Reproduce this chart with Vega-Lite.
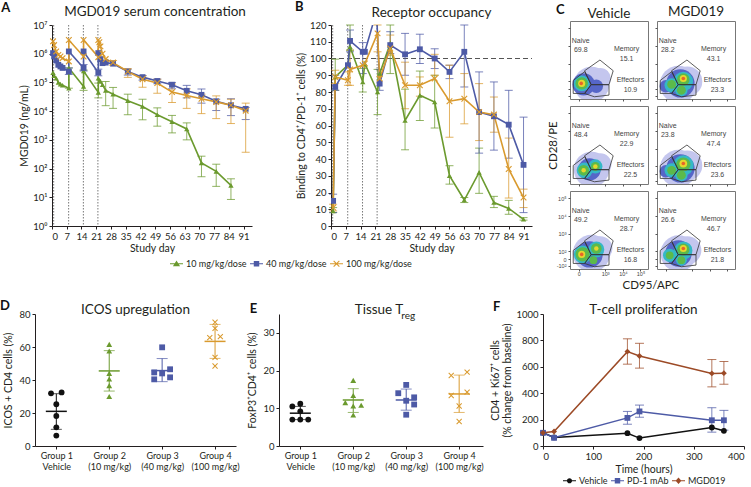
{"$schema":"https://vega.github.io/schema/vega-lite/v6.json","background":"white","padding":{"left":0,"top":1,"right":0,"bottom":0},
"config":{"font":"Lato","view":{"stroke":null},"axis":{"grid":false,"labelFont":"Lato","titleFont":"Lato","labelFontSize":9.5,"titleFontSize":10.5,"titleFontWeight":"normal","labelColor":"#231f20","titleColor":"#231f20","domainColor":"#231f20","tickColor":"#231f20","tickSize":3,"labelPadding":2,"titlePadding":3},"title":{"font":"Lato","fontSize":13.5,"fontWeight":"normal","color":"#231f20","offset":7,"anchor":"middle"},"legend":{"labelFont":"Lato","labelFontSize":9,"labelColor":"#231f20"}},
"datasets":{
"a":[
{"s":"10 mg/kg/dose","d":0.5,"v":220000},{"s":"10 mg/kg/dose","d":1,"v":170000},{"s":"10 mg/kg/dose","d":2,"v":140000},{"s":"10 mg/kg/dose","d":3,"v":100000},{"s":"10 mg/kg/dose","d":4,"v":87000},{"s":"10 mg/kg/dose","d":5,"v":80000},{"s":"10 mg/kg/dose","d":8,"v":63000,"h":320000,"l":63000},{"s":"10 mg/kg/dose","d":8,"v":320000},{"s":"10 mg/kg/dose","d":15,"v":72000,"h":270000,"l":53000},{"s":"10 mg/kg/dose","d":15,"v":250000},{"s":"10 mg/kg/dose","d":22,"v":45000,"h":95000,"l":29000},{"s":"10 mg/kg/dose","d":22,"v":140000},{"s":"10 mg/kg/dose","d":23,"v":110000},{"s":"10 mg/kg/dose","d":24,"v":83000},{"s":"10 mg/kg/dose","d":25.5,"v":53000,"h":108000,"l":15500},{"s":"10 mg/kg/dose","d":29,"v":39000,"h":67000,"l":12500},{"s":"10 mg/kg/dose","d":36,"v":23000,"h":39000,"l":7500},{"s":"10 mg/kg/dose","d":43,"v":14500,"h":26000,"l":5000},{"s":"10 mg/kg/dose","d":50,"v":7500,"h":13000,"l":3000},{"s":"10 mg/kg/dose","d":57,"v":4300,"h":7100,"l":1750},{"s":"10 mg/kg/dose","d":64,"v":2400,"h":3900,"l":1000},{"s":"10 mg/kg/dose","d":71,"v":158,"h":270,"l":52},{"s":"10 mg/kg/dose","d":78,"v":80,"h":142,"l":24},{"s":"10 mg/kg/dose","d":85,"v":26,"h":44,"l":8.4},
{"s":"40 mg/kg/dose","d":0.5,"v":1050000},{"s":"40 mg/kg/dose","d":1,"v":800000},{"s":"40 mg/kg/dose","d":2,"v":580000},{"s":"40 mg/kg/dose","d":3,"v":410000},{"s":"40 mg/kg/dose","d":4,"v":360000},{"s":"40 mg/kg/dose","d":5,"v":320000},{"s":"40 mg/kg/dose","d":8,"v":240000,"h":320000,"l":190000},{"s":"40 mg/kg/dose","d":8,"v":1200000},{"s":"40 mg/kg/dose","d":15,"v":320000,"h":420000,"l":250000},{"s":"40 mg/kg/dose","d":15,"v":1200000},{"s":"40 mg/kg/dose","d":22,"v":220000,"h":290000,"l":170000},{"s":"40 mg/kg/dose","d":22,"v":1050000},{"s":"40 mg/kg/dose","d":23,"v":650000},{"s":"40 mg/kg/dose","d":24,"v":470000},{"s":"40 mg/kg/dose","d":25.5,"v":490000},{"s":"40 mg/kg/dose","d":29,"v":450000},{"s":"40 mg/kg/dose","d":36,"v":240000,"h":290000,"l":180000},{"s":"40 mg/kg/dose","d":43,"v":153000,"h":175000,"l":120000},{"s":"40 mg/kg/dose","d":50,"v":112000,"h":130000,"l":90000},{"s":"40 mg/kg/dose","d":57,"v":83000,"h":100000,"l":60000},{"s":"40 mg/kg/dose","d":64,"v":51000,"h":79000,"l":29000},{"s":"40 mg/kg/dose","d":71,"v":37000,"h":59000,"l":19000},{"s":"40 mg/kg/dose","d":78,"v":22000,"h":26000,"l":10500},{"s":"40 mg/kg/dose","d":85,"v":16000,"h":27000,"l":7000},{"s":"40 mg/kg/dose","d":92,"v":12000,"h":13500,"l":5100},
{"s":"100 mg/kg/dose","d":0.5,"v":2700000},{"s":"100 mg/kg/dose","d":1,"v":2000000},{"s":"100 mg/kg/dose","d":2,"v":1200000},{"s":"100 mg/kg/dose","d":3,"v":900000},{"s":"100 mg/kg/dose","d":4,"v":800000},{"s":"100 mg/kg/dose","d":5,"v":700000},{"s":"100 mg/kg/dose","d":8,"v":540000},{"s":"100 mg/kg/dose","d":8,"v":3000000},{"s":"100 mg/kg/dose","d":15,"v":800000},{"s":"100 mg/kg/dose","d":15,"v":3000000},{"s":"100 mg/kg/dose","d":22,"v":760000},{"s":"100 mg/kg/dose","d":22,"v":3000000},{"s":"100 mg/kg/dose","d":22.5,"v":2500000},{"s":"100 mg/kg/dose","d":23,"v":1800000},{"s":"100 mg/kg/dose","d":24,"v":1000000},{"s":"100 mg/kg/dose","d":25.5,"v":650000},{"s":"100 mg/kg/dose","d":29,"v":490000,"h":580000,"l":400000},{"s":"100 mg/kg/dose","d":36,"v":240000,"h":300000,"l":150000},{"s":"100 mg/kg/dose","d":43,"v":130000,"h":170000,"l":68000},{"s":"100 mg/kg/dose","d":50,"v":95000,"h":130000,"l":42000},{"s":"100 mg/kg/dose","d":57,"v":46000,"h":88000,"l":20000},{"s":"100 mg/kg/dose","d":64,"v":35000,"h":60000,"l":12500},{"s":"100 mg/kg/dose","d":71,"v":27000,"h":39000,"l":8200},{"s":"100 mg/kg/dose","d":78,"v":21000,"h":34000,"l":5500},{"s":"100 mg/kg/dose","d":85,"v":16000,"h":26000,"l":3700},{"s":"100 mg/kg/dose","d":92,"v":10400,"h":19000,"l":370}],
"b":[
{"s":"10 mg/kg/dose","d":1,"v":9,"h":11,"l":8},{"s":"10 mg/kg/dose","d":2,"v":89,"h":99.6,"l":81},{"s":"10 mg/kg/dose","d":8,"v":96},{"s":"10 mg/kg/dose","d":9,"v":107,"h":120,"l":105},{"s":"10 mg/kg/dose","d":15,"v":86,"h":94,"l":80},{"s":"10 mg/kg/dose","d":16,"v":97},{"s":"10 mg/kg/dose","d":22,"v":80,"h":93.5,"l":66.5},{"s":"10 mg/kg/dose","d":23,"v":91},{"s":"10 mg/kg/dose","d":28,"v":109,"h":120,"l":91},{"s":"10 mg/kg/dose","d":35,"v":63,"h":81.7,"l":45.5},{"s":"10 mg/kg/dose","d":42,"v":78,"h":92.5,"l":63},{"s":"10 mg/kg/dose","d":49,"v":74,"h":90,"l":58.5},{"s":"10 mg/kg/dose","d":56,"v":30,"h":36,"l":25},{"s":"10 mg/kg/dose","d":63,"v":15.5,"h":17,"l":14},{"s":"10 mg/kg/dose","d":70,"v":32,"h":46.5,"l":19.5},{"s":"10 mg/kg/dose","d":77,"v":14,"h":17.7,"l":11},{"s":"10 mg/kg/dose","d":84,"v":10.5,"h":15.3,"l":7},{"s":"10 mg/kg/dose","d":91,"v":4,"h":5,"l":3.5},
{"s":"40 mg/kg/dose","d":1,"v":15,"h":19,"l":8},{"s":"40 mg/kg/dose","d":2,"v":83,"h":90,"l":81},{"s":"40 mg/kg/dose","d":8,"v":96},{"s":"40 mg/kg/dose","d":9,"v":110.5,"h":117,"l":104},{"s":"40 mg/kg/dose","d":15,"v":104,"h":109.5,"l":91},{"s":"40 mg/kg/dose","d":16,"v":104},{"s":"40 mg/kg/dose","d":21.5,"v":128},{"s":"40 mg/kg/dose","d":23,"v":85,"h":93.5,"l":81},{"s":"40 mg/kg/dose","d":28,"v":108,"h":116,"l":103},{"s":"40 mg/kg/dose","d":35,"v":102.5,"h":115,"l":90},{"s":"40 mg/kg/dose","d":42,"v":105.5,"h":114.5,"l":97},{"s":"40 mg/kg/dose","d":49,"v":100,"h":105.8,"l":94},{"s":"40 mg/kg/dose","d":56,"v":92,"h":96,"l":88},{"s":"40 mg/kg/dose","d":63,"v":104,"h":120,"l":83},{"s":"40 mg/kg/dose","d":70,"v":68,"h":92,"l":43.5},{"s":"40 mg/kg/dose","d":77,"v":65.5,"h":86,"l":45.3},{"s":"40 mg/kg/dose","d":84,"v":60.5,"h":81,"l":40.5},{"s":"40 mg/kg/dose","d":91,"v":36.5,"h":65,"l":8},
{"s":"100 mg/kg/dose","d":1,"v":11,"h":13,"l":9},{"s":"100 mg/kg/dose","d":2,"v":89,"h":93,"l":85},{"s":"100 mg/kg/dose","d":8,"v":87,"h":92,"l":84},{"s":"100 mg/kg/dose","d":9,"v":93.5,"h":105,"l":84},{"s":"100 mg/kg/dose","d":15,"v":96},{"s":"100 mg/kg/dose","d":16,"v":97},{"s":"100 mg/kg/dose","d":22,"v":115,"h":120,"l":104},{"s":"100 mg/kg/dose","d":23,"v":88},{"s":"100 mg/kg/dose","d":28,"v":106,"h":114,"l":102},{"s":"100 mg/kg/dose","d":35,"v":84,"h":97.8,"l":70},{"s":"100 mg/kg/dose","d":42,"v":84,"h":89,"l":77.5},{"s":"100 mg/kg/dose","d":49,"v":88,"h":102.5,"l":90},{"s":"100 mg/kg/dose","d":56,"v":74.5,"h":96,"l":53},{"s":"100 mg/kg/dose","d":63,"v":76,"h":91,"l":61},{"s":"100 mg/kg/dose","d":70,"v":68,"h":85,"l":51},{"s":"100 mg/kg/dose","d":77,"v":66.5,"h":77,"l":56},{"s":"100 mg/kg/dose","d":84,"v":34,"h":52.5,"l":16.7},{"s":"100 mg/kg/dose","d":91,"v":17,"h":22,"l":11}],
"blobs":[
{"p":"v1","u":22,"v":15,"n":1250,"k":1},{"p":"v1","u":31,"v":21,"n":450,"k":1},{"p":"v1","u":14,"v":15,"n":500,"k":2},{"p":"v1","u":27,"v":13,"n":180,"k":2},{"p":"v1","u":12,"v":16,"n":254,"k":3},{"p":"v1","u":12,"v":16,"n":154,"k":4},{"p":"v1","u":12,"v":16,"n":50,"k":5},{"p":"v1","u":11.5,"v":16,"n":13,"k":6},
{"p":"m1","u":22,"v":15,"n":1385,"k":1},{"p":"m1","u":31,"v":18,"n":908,"k":1},{"p":"m1","u":24,"v":16,"n":804,"k":2},{"p":"m1","u":9,"v":13,"n":154,"k":2},{"p":"m1","u":27,"v":18,"n":380,"k":3},{"p":"m1","u":15,"v":14,"n":201,"k":3},{"p":"m1","u":25,"v":9,"n":154,"k":3},{"p":"m1","u":27,"v":20,"n":154,"k":4},{"p":"m1","u":15,"v":15,"n":79,"k":4},{"p":"m1","u":25,"v":9,"n":79,"k":4},{"p":"m1","u":27,"v":21,"n":50,"k":5},{"p":"m1","u":27,"v":21,"n":13,"k":6},
{"p":"v2","u":22,"v":15,"n":1250,"k":1},{"p":"v2","u":31,"v":20,"n":500,"k":1},{"p":"v2","u":20,"v":15,"n":500,"k":2},{"p":"v2","u":15,"v":14,"n":254,"k":3},{"p":"v2","u":26,"v":18,"n":201,"k":3},{"p":"v2","u":14,"v":14,"n":113,"k":4},{"p":"v2","u":26,"v":18,"n":79,"k":4},{"p":"v2","u":14,"v":14,"n":20,"k":5},{"p":"v2","u":26,"v":18,"n":20,"k":5},
{"p":"m2","u":22,"v":16,"n":1385,"k":1},{"p":"m2","u":31,"v":19,"n":908,"k":1},{"p":"m2","u":24,"v":16,"n":804,"k":2},{"p":"m2","u":9,"v":13,"n":154,"k":2},{"p":"m2","u":27,"v":19,"n":420,"k":3},{"p":"m2","u":15,"v":14,"n":201,"k":3},{"p":"m2","u":25,"v":9,"n":154,"k":3},{"p":"m2","u":27,"v":20,"n":201,"k":4},{"p":"m2","u":15,"v":14,"n":79,"k":4},{"p":"m2","u":25,"v":9,"n":79,"k":4},{"p":"m2","u":27,"v":21,"n":60,"k":5},{"p":"m2","u":27,"v":21,"n":13,"k":6},
{"p":"v3","u":22,"v":16,"n":1385,"k":1},{"p":"v3","u":31,"v":21,"n":600,"k":1},{"p":"v3","u":20,"v":15,"n":700,"k":2},{"p":"v3","u":13,"v":15,"n":314,"k":3},{"p":"v3","u":27,"v":20,"n":254,"k":3},{"p":"v3","u":13,"v":15,"n":201,"k":4},{"p":"v3","u":27,"v":21,"n":113,"k":4},{"p":"v3","u":24,"v":9,"n":60,"k":4},{"p":"v3","u":12,"v":15,"n":50,"k":5},{"p":"v3","u":27,"v":21,"n":20,"k":5},{"p":"v3","u":12,"v":15,"n":13,"k":6},
{"p":"m3","u":22,"v":16,"n":1300,"k":1},{"p":"m3","u":31,"v":19,"n":800,"k":1},{"p":"m3","u":22,"v":16,"n":700,"k":2},{"p":"m3","u":27,"v":19,"n":330,"k":3},{"p":"m3","u":13,"v":14,"n":180,"k":3},{"p":"m3","u":25,"v":9,"n":120,"k":3},{"p":"m3","u":27,"v":20,"n":150,"k":4},{"p":"m3","u":13,"v":14,"n":60,"k":4},{"p":"m3","u":25,"v":9,"n":60,"k":4},{"p":"m3","u":27,"v":21,"n":50,"k":5},{"p":"m3","u":27,"v":21,"n":13,"k":6}],
"gates":[{"g":"Memory","u":15,"v":29},{"g":"Memory","u":30.7,"v":40},{"g":"Memory","u":44.3,"v":29},{"g":"Memory","u":40,"v":14.7},{"g":"Memory","u":21.7,"v":14.7},{"g":"Memory","u":15,"v":29},{"g":"Naive","u":3.3,"v":19},{"g":"Naive","u":15,"v":28},{"g":"Naive","u":21.7,"v":14.7},{"g":"Naive","u":15,"v":5.7},{"g":"Naive","u":3.3,"v":5.7},{"g":"Naive","u":3.3,"v":19},{"g":"Effectors","u":21.7,"v":14.7},{"g":"Effectors","u":40,"v":14.7},{"g":"Effectors","u":40,"v":4},{"g":"Effectors","u":25,"v":2.3},{"g":"Effectors","u":15,"v":5.7},{"g":"Effectors","u":21.7,"v":14.7}],
"labels":[
{"p":"v1","u":11,"v":59,"t":"Naive"},{"p":"v1","u":11,"v":50,"t":"69.8"},{"p":"v1","u":58,"v":51,"t":"Memory"},{"p":"v1","u":58,"v":41,"t":"15.1"},{"p":"v1","u":62,"v":19,"t":"Effectors"},{"p":"v1","u":62,"v":9,"t":"10.9"},
{"p":"m1","u":11,"v":59,"t":"Naive"},{"p":"m1","u":11,"v":50,"t":"28.2"},{"p":"m1","u":58,"v":51,"t":"Memory"},{"p":"m1","u":58,"v":41,"t":"43.1"},{"p":"m1","u":62,"v":19,"t":"Effectors"},{"p":"m1","u":62,"v":9,"t":"23.3"},
{"p":"v2","u":11,"v":59,"t":"Naive"},{"p":"v2","u":11,"v":50,"t":"48.4"},{"p":"v2","u":58,"v":51,"t":"Memory"},{"p":"v2","u":58,"v":41,"t":"22.9"},{"p":"v2","u":62,"v":19,"t":"Effectors"},{"p":"v2","u":62,"v":9,"t":"22.5"},
{"p":"m2","u":11,"v":59,"t":"Naive"},{"p":"m2","u":11,"v":50,"t":"23.8"},{"p":"m2","u":58,"v":51,"t":"Memory"},{"p":"m2","u":58,"v":41,"t":"47.4"},{"p":"m2","u":62,"v":19,"t":"Effectors"},{"p":"m2","u":62,"v":9,"t":"23.6"},
{"p":"v3","u":11,"v":59,"t":"Naive"},{"p":"v3","u":11,"v":50,"t":"49.2"},{"p":"v3","u":58,"v":51,"t":"Memory"},{"p":"v3","u":58,"v":41,"t":"28.7"},{"p":"v3","u":62,"v":19,"t":"Effectors"},{"p":"v3","u":62,"v":9,"t":"16.8"},
{"p":"m3","u":11,"v":59,"t":"Naive"},{"p":"m3","u":11,"v":50,"t":"26.6"},{"p":"m3","u":58,"v":51,"t":"Memory"},{"p":"m3","u":58,"v":41,"t":"46.7"},{"p":"m3","u":62,"v":19,"t":"Effectors"},{"p":"m3","u":62,"v":9,"t":"21.8"}],
"d":[{"g":1,"x":0.9,"v":31.9},{"g":1,"x":1.1,"v":32.5},{"g":1,"x":1,"v":25.3},{"g":1,"x":1,"v":18.2},{"g":1,"x":1,"v":11.3},{"g":1,"x":1,"v":6.3},{"g":2,"x":2,"v":61.6},{"g":2,"x":2,"v":57.6},{"g":2,"x":2,"v":44},{"g":2,"x":2,"v":40.6},{"g":2,"x":2,"v":36.6},{"g":2,"x":2,"v":30},{"g":3,"x":3,"v":59.8},{"g":3,"x":3.15,"v":46.5},{"g":3,"x":2.85,"v":44.6},{"g":3,"x":3,"v":44},{"g":3,"x":3.15,"v":41.6},{"g":3,"x":2.85,"v":40.4},{"g":4,"x":4,"v":75},{"g":4,"x":4,"v":71.3},{"g":4,"x":3.9,"v":65.7},{"g":4,"x":4.1,"v":66.3},{"g":4,"x":4,"v":53.7},{"g":4,"x":4,"v":48.5}],
"ds":[{"g":1,"x":1,"m":21,"h":31.7,"l":10.1},{"g":2,"x":2,"m":45.5,"h":57.8,"l":33.3},{"g":3,"x":3,"m":45.7,"h":53,"l":39},{"g":4,"x":4,"m":63.4,"h":73.7,"l":53.1}],
"e":[{"g":1,"x":0.85,"v":10.5},{"g":1,"x":1,"v":11.2},{"g":1,"x":1,"v":9.2},{"g":1,"x":0.85,"v":7},{"g":1,"x":1,"v":7},{"g":1,"x":1.15,"v":7},{"g":2,"x":2,"v":17.4},{"g":2,"x":2,"v":13.4},{"g":2,"x":1.85,"v":11.5},{"g":2,"x":2.15,"v":10.8},{"g":2,"x":2,"v":10.6},{"g":2,"x":2,"v":8.2},{"g":3,"x":3,"v":16.2},{"g":3,"x":2.85,"v":14},{"g":3,"x":3.15,"v":12.9},{"g":3,"x":3,"v":12},{"g":3,"x":3.15,"v":11},{"g":3,"x":3,"v":8.3},{"g":4,"x":3.85,"v":18.7},{"g":4,"x":4.15,"v":19.6},{"g":4,"x":4.15,"v":14.3},{"g":4,"x":3.85,"v":13.4},{"g":4,"x":4,"v":10.6},{"g":4,"x":4,"v":6.5}],
"es":[{"g":1,"x":1,"m":8.7,"h":10.5,"l":7},{"g":2,"x":2,"m":12.2,"h":15.2,"l":8.9},{"g":3,"x":3,"m":12.2,"h":15.1,"l":9.5},{"g":4,"x":4,"m":13.8,"h":18.8,"l":8.9}],
"f":[{"s":"Vehicle","t":0,"v":100},{"s":"Vehicle","t":22,"v":65},{"s":"Vehicle","t":168,"v":97},{"s":"Vehicle","t":192,"v":60},{"s":"Vehicle","t":336,"v":140},{"s":"Vehicle","t":360,"v":115},
{"s":"PD-1 mAb","t":0,"v":100},{"s":"PD-1 mAb","t":22,"v":62},{"s":"PD-1 mAb","t":168,"v":213,"h":262,"l":165},{"s":"PD-1 mAb","t":192,"v":262,"h":310,"l":218},{"s":"PD-1 mAb","t":336,"v":195,"h":290,"l":105},{"s":"PD-1 mAb","t":360,"v":195,"h":270,"l":120},
{"s":"MGD019","t":0,"v":100},{"s":"MGD019","t":22,"v":110},{"s":"MGD019","t":168,"v":715,"h":812,"l":620},{"s":"MGD019","t":192,"v":682,"h":778,"l":590},{"s":"MGD019","t":336,"v":550,"h":655,"l":448},{"s":"MGD019","t":360,"v":552,"h":640,"l":468}]
},
"bounds":"flush","spacing":293,"resolve":{"scale":{"color":"independent","shape":"independent"},"legend":{"color":"independent","shape":"independent"}},
"vconcat":[
{"bounds":"flush","spacing":16,"resolve":{"scale":{"color":"independent","shape":"independent"},"legend":{"color":"independent","shape":"independent"}},"hconcat":[
 {"width":1,"height":1,"data":{"values":[{"a":1}]},"mark":{"type":"point","opacity":0},"encoding":{}},
 {"bounds":"flush","spacing":518,"resolve":{"scale":{"color":"independent","shape":"independent"},"legend":{"color":"independent","shape":"independent"}},"hconcat":[
  {"bounds":"flush","spacing":3,"resolve":{"scale":{"color":"independent","shape":"independent"},"legend":{"color":"independent","shape":"independent"}},"vconcat":[
   {"width":1,"height":1,"data":{"values":[{"a":1}]},"mark":{"type":"point","opacity":0},"encoding":{}},
   {"bounds":"flush","spacing":79,"resolve":{"scale":{"color":"independent","shape":"independent"},"legend":{"color":"independent","shape":"independent"}},"hconcat":[
    {"width":200,"height":201,"title":{"text":"MGD019 serum concentration","offset":-17,"dx":3},"data":{"name":"a"},"resolve":{"axis":{"x":"independent","y":"independent"},"legend":{"color":"independent","shape":"independent"}},
     "encoding":{"x":{"field":"d","type":"quantitative","scale":{"domain":[0,95]},"axis":null}},
     "layer":[
      {"data":{"values":[{"d":0.8},{"d":7.9},{"d":14.9},{"d":21.8}]},"mark":{"type":"rule","strokeDash":[1.5,1.5],"color":"#555","strokeWidth":0.8},"encoding":{}},
      {"transform":[{"filter":"isValid(datum.h)"}],"mark":{"type":"errorbar","ticks":{"size":8},"orient":"vertical","opacity":0.75},"encoding":{"y":{"field":"h","type":"quantitative","scale":{"type":"log","domain":[1,10000000]},"axis":null},"y2":{"field":"l"},"color":{"field":"s","type":"nominal","scale":{"domain":["10 mg/kg/dose","40 mg/kg/dose","100 mg/kg/dose"],"range":["#6b9a2e","#4d5aa6","#d99a2e"]},"legend":null}}},
      {"mark":{"type":"line","strokeWidth":1.6},"encoding":{"order":{"value":null},"x":{"field":"d","type":"quantitative","title":"Study day","axis":{"values":[0,7,14,21,28,35,42,49,56,63,70,77,84,91]}},"y":{"field":"v","type":"quantitative","title":"MGD019 (ng/mL)","scale":{"type":"log","domain":[1,10000000]},"axis":{"values":[1,10,100,1000,10000,100000,1000000,10000000],"labelExpr":"'10'+['⁰','¹','²','³','⁴','⁵','⁶','⁷'][round(log(datum.value)/LN10)]"}},"color":{"field":"s","type":"nominal","legend":null}}},
      {"transform":[{"filter":"datum.s=='10 mg/kg/dose'"}],"mark":{"type":"point","filled":true,"shape":"triangle-up","size":28,"opacity":1},"encoding":{"y":{"field":"v","type":"quantitative","axis":null},"color":{"field":"s","type":"nominal","legend":null}}},
      {"transform":[{"filter":"datum.s=='40 mg/kg/dose'"}],"mark":{"type":"point","filled":true,"shape":"square","size":34,"opacity":1},"encoding":{"y":{"field":"v","type":"quantitative","axis":null},"color":{"field":"s","type":"nominal","legend":null}}},
      {"transform":[{"filter":"datum.s=='100 mg/kg/dose'"}],"mark":{"type":"point","filled":true,"shape":"M-1,-0.75L-0.75,-1L1,0.75L0.75,1ZM-1,0.75L0.75,-1L1,-0.75L-0.75,1Z","size":42,"opacity":1},"encoding":{"y":{"field":"v","type":"quantitative","axis":null},"color":{"field":"s","type":"nominal","legend":null}}},
      {"mark":{"type":"point","filled":true,"opacity":1},"encoding":{"size":{"value":0},"y":{"field":"v","type":"quantitative","axis":null},
        "color":{"field":"s","type":"nominal","legend":{"title":null,"orient":"none","legendX":118,"legendY":232,"direction":"horizontal","columns":3,"symbolSize":169,"columnPadding":3,"labelOffset":3,"symbolStrokeWidth":0,"symbolOpacity":1}},
        "shape":{"field":"s","type":"nominal","scale":{"domain":["10 mg/kg/dose","40 mg/kg/dose","100 mg/kg/dose"],"range":["M-1,-0.09H1V0.09H-1ZM0,-0.5L0.55,0.4L-0.55,0.4Z","M-1,-0.09H1V0.09H-1ZM-0.42,-0.42H0.42V0.42H-0.42Z","M-1,-0.09H1V0.09H-1ZM-0.5,-0.38L-0.38,-0.5L0.5,0.38L0.38,0.5ZM-0.5,0.38L0.38,-0.5L0.5,-0.38L-0.38,0.5Z"]},"legend":{"title":null,"orient":"none","legendX":118,"legendY":232,"direction":"horizontal","columns":3,"symbolSize":169,"columnPadding":3,"labelOffset":3,"symbolStrokeWidth":0,"symbolOpacity":1}}}},
      {"data":{"values":[{"l":"A","d":-22}]},"mark":{"type":"text","fontWeight":"bold","fontSize":13,"font":"Lato","color":"#111"},"encoding":{"text":{"field":"l"},"y":{"datum":40000000,"axis":null}}}
     ]},
    {"width":201,"height":201,"title":{"text":"Receptor occupancy","offset":-18},"data":{"name":"b"},"resolve":{"axis":{"x":"independent","y":"independent"}},
     "encoding":{"x":{"field":"d","type":"quantitative","scale":{"domain":[0,95]},"axis":null}},
     "layer":[
      {"data":{"values":[{"d":0.8},{"d":7.9},{"d":14.9},{"d":21.8}]},"mark":{"type":"rule","strokeDash":[1.5,1.5],"color":"#555","strokeWidth":0.8},"encoding":{}},
      {"data":{"values":[{"c":100}]},"mark":{"type":"rule","strokeDash":[5,3],"color":"#555","strokeWidth":1},"encoding":{"x":{"value":0},"x2":{"value":201},"y":{"field":"c","type":"quantitative","scale":{"domain":[0,120]},"axis":null}}},
      {"transform":[{"filter":"isValid(datum.h)"}],"mark":{"type":"errorbar","ticks":{"size":8},"orient":"vertical","opacity":0.75},"encoding":{"y":{"field":"h","type":"quantitative","scale":{"domain":[0,120]},"axis":null},"y2":{"field":"l"},"color":{"field":"s","type":"nominal","scale":{"domain":["10 mg/kg/dose","40 mg/kg/dose","100 mg/kg/dose"],"range":["#6b9a2e","#4d5aa6","#d99a2e"]},"legend":null}}},
      {"mark":{"type":"line","strokeWidth":1.6,"clip":true},"encoding":{"x":{"field":"d","type":"quantitative","title":"Study day","axis":{"values":[0,7,14,21,28,35,42,49,56,63,70,77,84,91]}},"y":{"field":"v","type":"quantitative","title":"Binding to CD4⁺/PD-1⁺ cells (%)","scale":{"domain":[0,120]},"axis":{"values":[0,10,20,30,40,50,60,70,80,90,100,110,120]}},"color":{"field":"s","type":"nominal","legend":null}}},
      {"transform":[{"filter":"datum.s=='10 mg/kg/dose'"}],"mark":{"type":"point","filled":true,"shape":"triangle-up","size":28,"opacity":1,"clip":true},"encoding":{"y":{"field":"v","type":"quantitative","axis":null},"color":{"field":"s","type":"nominal","legend":null}}},
      {"transform":[{"filter":"datum.s=='40 mg/kg/dose'"}],"mark":{"type":"point","filled":true,"shape":"square","size":34,"opacity":1,"clip":true},"encoding":{"y":{"field":"v","type":"quantitative","axis":null},"color":{"field":"s","type":"nominal","legend":null}}},
      {"transform":[{"filter":"datum.s=='100 mg/kg/dose'"}],"mark":{"type":"point","filled":true,"shape":"M-1,-0.75L-0.75,-1L1,0.75L0.75,1ZM-1,0.75L0.75,-1L1,-0.75L-0.75,1Z","size":42,"opacity":1,"clip":true},"encoding":{"y":{"field":"v","type":"quantitative","axis":null},"color":{"field":"s","type":"nominal","legend":null}}},
      {"data":{"values":[{"l":"B","d":-15}]},"mark":{"type":"text","fontWeight":"bold","fontSize":13,"font":"Lato","color":"#111"},"encoding":{"text":{"field":"l"},"y":{"datum":130.7,"axis":null}}}
     ]}
   ]}
  ]},
  {"bounds":"flush","columns":2,"spacing":{"column":9,"row":7},"concat":[
   {"width":78,"height":78,"view":{"stroke":"#777"},"title":{"text":"Vehicle","offset":-16},"resolve":{"axis":{"x":"independent","y":"independent"}},"layer":[
     {"data":{"name":"blobs"},"transform":[{"filter":"datum.p=='v1'"}],"mark":{"type":"point","filled":true,"opacity":1,"clip":true},"encoding":{"x":{"field":"u","type":"quantitative","scale":{"domain":[0,78]},"axis":{"title":null,"domain":false,"values":[9,36,54.3,72.3],"labels":false,"tickSize":2,"tickColor":"#555"}},"y":{"field":"v","type":"quantitative","scale":{"domain":[0,78]},"axis":{"title":null,"domain":false,"values":[3.3,10,18.3,36.3,54.3,72.7],"labels":false,"tickSize":2,"tickColor":"#555"}},"size":{"field":"n","type":"quantitative","scale":null,"legend":null},"color":{"field":"k","type":"ordinal","scale":{"domain":[1,2,3,4,5,6],"range":["#c4c6ee","#5666c8","#35b8c6","#5cba4a","#e6d72e","#e8642a"]},"legend":null}}},
     {"data":{"name":"gates"},"mark":{"type":"line","color":"#333","strokeWidth":0.8},"encoding":{"order":{"value":null},"detail":{"field":"g"},"x":{"field":"u","type":"quantitative","axis":null},"y":{"field":"v","type":"quantitative","axis":null}}},
     {"data":{"name":"labels"},"transform":[{"filter":"datum.p=='v1'"}],"mark":{"type":"text","font":"Liberation Sans","fontSize":7,"color":"#444"},"encoding":{"text":{"field":"t"},"x":{"field":"u","type":"quantitative","axis":null},"y":{"field":"v","type":"quantitative","axis":null}}},
     {"data":{"values":[{"l":"C"}]},"mark":{"type":"text","fontWeight":"bold","fontSize":13,"font":"Lato","color":"#111"},"encoding":{"text":{"field":"l"},"x":{"datum":-10,"axis":null},"y":{"datum":91,"axis":null}}}
   ]},
   {"width":78,"height":78,"view":{"stroke":"#777"},"title":{"text":"MGD019","offset":2.5},"resolve":{"axis":{"x":"independent","y":"independent"}},"layer":[
     {"data":{"name":"blobs"},"transform":[{"filter":"datum.p=='m1'"}],"mark":{"type":"point","filled":true,"opacity":1,"clip":true},"encoding":{"x":{"field":"u","type":"quantitative","scale":{"domain":[0,78]},"axis":{"title":null,"domain":false,"values":[9,36,54.3,72.3],"labels":false,"tickSize":2,"tickColor":"#555"}},"y":{"field":"v","type":"quantitative","scale":{"domain":[0,78]},"axis":{"title":null,"domain":false,"values":[3.3,10,18.3,36.3,54.3,72.7],"labels":false,"tickSize":2,"tickColor":"#555"}},"size":{"field":"n","type":"quantitative","scale":null,"legend":null},"color":{"field":"k","type":"ordinal","scale":{"domain":[1,2,3,4,5,6],"range":["#c4c6ee","#5666c8","#35b8c6","#5cba4a","#e6d72e","#e8642a"]},"legend":null}}},
     {"data":{"name":"gates"},"mark":{"type":"line","color":"#333","strokeWidth":0.8},"encoding":{"order":{"value":null},"detail":{"field":"g"},"x":{"field":"u","type":"quantitative","axis":null},"y":{"field":"v","type":"quantitative","axis":null}}},
     {"data":{"name":"labels"},"transform":[{"filter":"datum.p=='m1'"}],"mark":{"type":"text","font":"Liberation Sans","fontSize":7,"color":"#444"},"encoding":{"text":{"field":"t"},"x":{"field":"u","type":"quantitative","axis":null},"y":{"field":"v","type":"quantitative","axis":null}}}
   ]},
   {"width":78,"height":78,"view":{"stroke":"#777"},"resolve":{"axis":{"x":"independent","y":"independent"}},"layer":[
     {"data":{"name":"blobs"},"transform":[{"filter":"datum.p=='v2'"}],"mark":{"type":"point","filled":true,"opacity":1,"clip":true},"encoding":{"x":{"field":"u","type":"quantitative","scale":{"domain":[0,78]},"axis":{"title":null,"domain":false,"values":[9,36,54.3,72.3],"labels":false,"tickSize":2,"tickColor":"#555"}},"y":{"field":"v","type":"quantitative","scale":{"domain":[0,78]},"axis":{"title":"CD28/PE","titleFontSize":11.5,"titlePadding":9,"domain":false,"values":[3.3,10,18.3,36.3,54.3,72.7],"labels":false,"tickSize":2,"tickColor":"#555"}},"size":{"field":"n","type":"quantitative","scale":null,"legend":null},"color":{"field":"k","type":"ordinal","scale":{"domain":[1,2,3,4,5,6],"range":["#c4c6ee","#5666c8","#35b8c6","#5cba4a","#e6d72e","#e8642a"]},"legend":null}}},
     {"data":{"name":"gates"},"mark":{"type":"line","color":"#333","strokeWidth":0.8},"encoding":{"order":{"value":null},"detail":{"field":"g"},"x":{"field":"u","type":"quantitative","axis":null},"y":{"field":"v","type":"quantitative","axis":null}}},
     {"data":{"name":"labels"},"transform":[{"filter":"datum.p=='v2'"}],"mark":{"type":"text","font":"Liberation Sans","fontSize":7,"color":"#444"},"encoding":{"text":{"field":"t"},"x":{"field":"u","type":"quantitative","axis":null},"y":{"field":"v","type":"quantitative","axis":null}}}
   ]},
   {"width":78,"height":78,"view":{"stroke":"#777"},"resolve":{"axis":{"x":"independent","y":"independent"}},"layer":[
     {"data":{"name":"blobs"},"transform":[{"filter":"datum.p=='m2'"}],"mark":{"type":"point","filled":true,"opacity":1,"clip":true},"encoding":{"x":{"field":"u","type":"quantitative","scale":{"domain":[0,78]},"axis":{"title":null,"domain":false,"values":[9,36,54.3,72.3],"labels":false,"tickSize":2,"tickColor":"#555"}},"y":{"field":"v","type":"quantitative","scale":{"domain":[0,78]},"axis":{"title":null,"domain":false,"values":[3.3,10,18.3,36.3,54.3,72.7],"labels":false,"tickSize":2,"tickColor":"#555"}},"size":{"field":"n","type":"quantitative","scale":null,"legend":null},"color":{"field":"k","type":"ordinal","scale":{"domain":[1,2,3,4,5,6],"range":["#c4c6ee","#5666c8","#35b8c6","#5cba4a","#e6d72e","#e8642a"]},"legend":null}}},
     {"data":{"name":"gates"},"mark":{"type":"line","color":"#333","strokeWidth":0.8},"encoding":{"order":{"value":null},"detail":{"field":"g"},"x":{"field":"u","type":"quantitative","axis":null},"y":{"field":"v","type":"quantitative","axis":null}}},
     {"data":{"name":"labels"},"transform":[{"filter":"datum.p=='m2'"}],"mark":{"type":"text","font":"Liberation Sans","fontSize":7,"color":"#444"},"encoding":{"text":{"field":"t"},"x":{"field":"u","type":"quantitative","axis":null},"y":{"field":"v","type":"quantitative","axis":null}}}
   ]},
   {"width":78,"height":78,"view":{"stroke":"#777"},"resolve":{"axis":{"x":"independent","y":"independent"}},"layer":[
     {"data":{"name":"blobs"},"transform":[{"filter":"datum.p=='v3'"}],"mark":{"type":"point","filled":true,"opacity":1,"clip":true},"encoding":{"x":{"field":"u","type":"quantitative","scale":{"domain":[0,78]},"axis":{"title":null,"domain":false,"values":[9,36,54.3,72.3],"tickSize":2,"tickColor":"#555","labelPadding":0,"labelFont":"Liberation Sans","labelFontSize":5.5,"labelColor":"#444","labelExpr":"datum.value<10?'0':datum.value<40?'10³':datum.value<60?'10⁴':'10⁵'"}},"y":{"field":"v","type":"quantitative","scale":{"domain":[0,78]},"axis":{"title":null,"domain":false,"values":[3.3,10,18.3,36.3,54.3,72.7],"tickSize":2,"tickColor":"#555","labelFont":"Liberation Sans","labelFontSize":5.5,"labelColor":"#444","labelExpr":"datum.value<4?'-10²':datum.value<11?'0':datum.value<20?'10²':datum.value<40?'10³':datum.value<60?'10⁴':'10⁵'"}},"size":{"field":"n","type":"quantitative","scale":null,"legend":null},"color":{"field":"k","type":"ordinal","scale":{"domain":[1,2,3,4,5,6],"range":["#c4c6ee","#5666c8","#35b8c6","#5cba4a","#e6d72e","#e8642a"]},"legend":null}}},
     {"data":{"name":"gates"},"mark":{"type":"line","color":"#333","strokeWidth":0.8},"encoding":{"order":{"value":null},"detail":{"field":"g"},"x":{"field":"u","type":"quantitative","axis":null},"y":{"field":"v","type":"quantitative","axis":null}}},
     {"data":{"name":"labels"},"transform":[{"filter":"datum.p=='v3'"}],"mark":{"type":"text","font":"Liberation Sans","fontSize":7,"color":"#444"},"encoding":{"text":{"field":"t"},"x":{"field":"u","type":"quantitative","axis":null},"y":{"field":"v","type":"quantitative","axis":null}}},
     {"data":{"values":[{"l":"CD95/APC"}]},"mark":{"type":"text","fontSize":11.5,"font":"Lato","color":"#231f20"},"encoding":{"text":{"field":"l"},"x":{"datum":83,"axis":null},"y":{"datum":-17,"axis":null}}}
   ]},
   {"width":78,"height":78,"view":{"stroke":"#777"},"resolve":{"axis":{"x":"independent","y":"independent"}},"layer":[
     {"data":{"name":"blobs"},"transform":[{"filter":"datum.p=='m3'"}],"mark":{"type":"point","filled":true,"opacity":1,"clip":true},"encoding":{"x":{"field":"u","type":"quantitative","scale":{"domain":[0,78]},"axis":{"title":null,"domain":false,"values":[9,36,54.3,72.3],"labels":false,"tickSize":2,"tickColor":"#555"}},"y":{"field":"v","type":"quantitative","scale":{"domain":[0,78]},"axis":{"title":null,"domain":false,"values":[3.3,10,18.3,36.3,54.3,72.7],"labels":false,"tickSize":2,"tickColor":"#555"}},"size":{"field":"n","type":"quantitative","scale":null,"legend":null},"color":{"field":"k","type":"ordinal","scale":{"domain":[1,2,3,4,5,6],"range":["#c4c6ee","#5666c8","#35b8c6","#5cba4a","#e6d72e","#e8642a"]},"legend":null}}},
     {"data":{"name":"gates"},"mark":{"type":"line","color":"#333","strokeWidth":0.8},"encoding":{"order":{"value":null},"detail":{"field":"g"},"x":{"field":"u","type":"quantitative","axis":null},"y":{"field":"v","type":"quantitative","axis":null}}},
     {"data":{"name":"labels"},"transform":[{"filter":"datum.p=='m3'"}],"mark":{"type":"text","font":"Liberation Sans","fontSize":7,"color":"#444"},"encoding":{"text":{"field":"t"},"x":{"field":"u","type":"quantitative","axis":null},"y":{"field":"v","type":"quantitative","axis":null}}}
   ]}
  ]}
 ]}
]},
{"bounds":"flush","spacing":508,"resolve":{"scale":{"color":"independent","shape":"independent"},"legend":{"color":"independent","shape":"independent"}},"hconcat":[
 {"bounds":"flush","spacing":43,"resolve":{"scale":{"color":"independent","shape":"independent"},"legend":{"color":"independent","shape":"independent"}},"hconcat":[
  {"width":201,"height":132,"title":{"text":"ICOS upregulation","offset":-16},"resolve":{"axis":{"x":"independent","y":"independent"}},
   "encoding":{"x":{"field":"x","type":"quantitative","scale":{"domain":[0.597,4.396]},"axis":null}},
   "layer":[
    {"data":{"name":"ds"},"mark":{"type":"errorbar","ticks":{"size":11},"orient":"vertical"},"encoding":{"y":{"field":"h","type":"quantitative","scale":{"domain":[0,80]},"axis":null},"y2":{"field":"l"},"color":{"field":"g","type":"nominal","scale":{"domain":[1,2,3,4],"range":["#111111","#6b9a2e","#4d5aa6","#d99a2e"]},"legend":null}}},
    {"data":{"name":"ds"},"mark":{"type":"tick","orient":"horizontal","size":21,"thickness":1.5,"opacity":1},"encoding":{"x":{"field":"x","type":"quantitative","title":null,"axis":{"values":[1,2,3,4],"labelFontSize":9,"labelLineHeight":11,"labelExpr":"datum.value==1?['Group 1','Vehicle']:datum.value==2?['Group 2','(10 mg/kg)']:datum.value==3?['Group 3','(40 mg/kg)']:['Group 4','(100 mg/kg)']"}},"y":{"field":"m","type":"quantitative","title":"ICOS + CD4 cells (%)","axis":{"values":[0,20,40,60,80],"titlePadding":5}},"color":{"field":"g","type":"nominal","legend":null}}},
    {"data":{"name":"d"},"mark":{"type":"point","filled":true,"size":34,"opacity":1},"encoding":{"y":{"field":"v","type":"quantitative","axis":null},"color":{"field":"g","type":"nominal","legend":null},"shape":{"field":"g","type":"nominal","legend":null,"scale":{"domain":[1,2,3,4],"range":["circle","triangle-up","square","M-1,-0.75L-0.75,-1L1,0.75L0.75,1ZM-1,0.75L0.75,-1L1,-0.75L-0.75,1Z"]}}}},
    {"data":{"values":[{"l":"D","x":0.03}]},"mark":{"type":"text","fontWeight":"bold","fontSize":13,"font":"Lato","color":"#111"},"encoding":{"text":{"field":"l"},"y":{"datum":84.8,"axis":null}}}
   ]},
  {"width":204,"height":132,"title":{"text":"Tissue T","dx":-2,"offset":-13},"resolve":{"axis":{"x":"independent","y":"independent"}},
   "encoding":{"x":{"field":"x","type":"quantitative","scale":{"domain":[0.598,4.45]},"axis":null}},
   "layer":[
    {"data":{"name":"es"},"mark":{"type":"errorbar","ticks":{"size":11},"orient":"vertical"},"encoding":{"y":{"field":"h","type":"quantitative","scale":{"domain":[0,34.2]},"axis":null},"y2":{"field":"l"},"color":{"field":"g","type":"nominal","scale":{"domain":[1,2,3,4],"range":["#111111","#6b9a2e","#4d5aa6","#d99a2e"]},"legend":null}}},
    {"data":{"name":"es"},"mark":{"type":"tick","orient":"horizontal","size":21,"thickness":1.5,"opacity":1},"encoding":{"x":{"field":"x","type":"quantitative","title":null,"axis":{"values":[1,2,3,4],"labelFontSize":9,"labelLineHeight":11,"labelExpr":"datum.value==1?['Group 1','Vehicle']:datum.value==2?['Group 2','(10 mg/kg)']:datum.value==3?['Group 3','(40 mg/kg)']:['Group 4','(100 mg/kg)']"}},"y":{"field":"m","type":"quantitative","title":"FoxP3⁺CD4⁺ cells (%)","axis":{"values":[0,10,20,30],"titlePadding":5}},"color":{"field":"g","type":"nominal","legend":null}}},
    {"data":{"name":"e"},"mark":{"type":"point","filled":true,"size":34,"opacity":1},"encoding":{"y":{"field":"v","type":"quantitative","axis":null},"color":{"field":"g","type":"nominal","legend":null},"shape":{"field":"g","type":"nominal","legend":null,"scale":{"domain":[1,2,3,4],"range":["circle","triangle-up","square","M-1,-0.75L-0.75,-1L1,0.75L0.75,1ZM-1,0.75L0.75,-1L1,-0.75L-0.75,1Z"]}}}},
    {"data":{"values":[{"l":"E","x":0.114}]},"mark":{"type":"text","fontWeight":"bold","fontSize":13,"font":"Lato","color":"#111"},"encoding":{"text":{"field":"l"},"y":{"datum":36.3,"axis":null}}},
    {"data":{"values":[{"l":"reg","x":3.04}]},"mark":{"type":"text","fontSize":10,"font":"Lato","color":"#231f20"},"encoding":{"text":{"field":"l"},"y":{"datum":34.4,"axis":null}}}
   ]}
 ]},
 {"width":201,"height":132,"title":{"text":"T-cell proliferation","offset":-15},"data":{"name":"f"},"resolve":{"axis":{"x":"independent","y":"independent"},"legend":{"color":"independent","shape":"independent"}},
  "encoding":{"x":{"field":"t","type":"quantitative","scale":{"domain":[0,400]},"axis":null}},
  "layer":[
   {"transform":[{"filter":"isValid(datum.h)"}],"mark":{"type":"errorbar","ticks":{"size":9},"orient":"vertical","opacity":0.75},"encoding":{"y":{"field":"h","type":"quantitative","scale":{"domain":[0,1000]},"axis":null},"y2":{"field":"l"},"color":{"field":"s","type":"nominal","scale":{"domain":["Vehicle","PD-1 mAb","MGD019"],"range":["#111111","#4d5aa6","#9c4a26"]},"legend":null}}},
   {"mark":{"type":"line","strokeWidth":1.5},"encoding":{"x":{"field":"t","type":"quantitative","title":"Time (hours)","axis":{"values":[0,100,200,300,400],"titlePadding":4}},"y":{"field":"v","type":"quantitative","title":["CD4 + Ki67⁺ cells","(% change from baseline)"],"scale":{"domain":[0,1000]},"axis":{"values":[0,200,400,600,800,1000],"format":"d"}},"color":{"field":"s","type":"nominal","legend":null}}},
   {"transform":[{"filter":"datum.s=='Vehicle'"}],"mark":{"type":"point","filled":true,"shape":"circle","size":34,"opacity":1},"encoding":{"y":{"field":"v","type":"quantitative","axis":null},"color":{"field":"s","type":"nominal","legend":null}}},
   {"transform":[{"filter":"datum.s=='PD-1 mAb'"}],"mark":{"type":"point","filled":true,"shape":"square","size":34,"opacity":1},"encoding":{"y":{"field":"v","type":"quantitative","axis":null},"color":{"field":"s","type":"nominal","legend":null}}},
   {"transform":[{"filter":"datum.s=='MGD019'"}],"mark":{"type":"point","filled":true,"shape":"diamond","size":34,"opacity":1},"encoding":{"y":{"field":"v","type":"quantitative","axis":null},"color":{"field":"s","type":"nominal","legend":null}}},
   {"mark":{"type":"point","filled":true,"opacity":1},"encoding":{"size":{"value":0},"y":{"field":"v","type":"quantitative","axis":null},
     "color":{"field":"s","type":"nominal","legend":{"title":null,"orient":"none","legendX":20,"legendY":160,"direction":"horizontal","columns":3,"symbolSize":169,"columnPadding":3,"labelOffset":3,"symbolStrokeWidth":0,"symbolOpacity":1}},
     "shape":{"field":"s","type":"nominal","scale":{"domain":["Vehicle","PD-1 mAb","MGD019"],"range":["M-1,-0.09H1V0.09H-1ZM-0.4,0A0.4,0.4,0,1,1,0.4,0A0.4,0.4,0,1,1,-0.4,0Z","M-1,-0.09H1V0.09H-1ZM-0.42,-0.42H0.42V0.42H-0.42Z","M-1,-0.09H1V0.09H-1ZM0,-0.5L0.45,0L0,0.5L-0.45,0Z"]},"legend":{"title":null,"orient":"none","legendX":20,"legendY":160,"direction":"horizontal","columns":3,"symbolSize":169,"columnPadding":3,"labelOffset":3,"symbolStrokeWidth":0,"symbolOpacity":1}}}},
   {"data":{"values":[{"l":"F","t":-92}]},"mark":{"type":"text","fontWeight":"bold","fontSize":13,"font":"Lato","color":"#111"},"encoding":{"text":{"field":"l"},"y":{"datum":1053,"axis":null}}}
  ]}
]}
]}
